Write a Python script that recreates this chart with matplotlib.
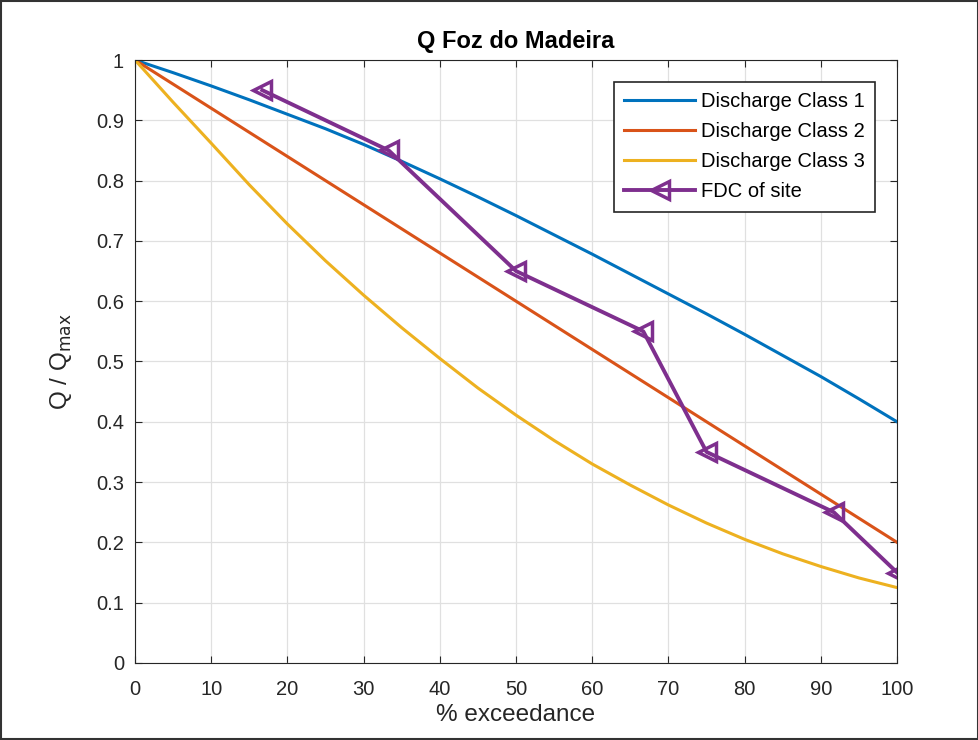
import numpy as np
import matplotlib.pyplot as plt
from matplotlib.patches import Rectangle

plt.rcParams['font.family'] = ['Liberation Sans', 'DejaVu Sans']

# --- donnees ---
exceedance = [0, 5, 10, 15, 20, 25, 30, 35, 40, 45, 50,
              55, 60, 65, 70, 75, 80, 85, 90, 95, 100]
class1 = [1.0, 0.979, 0.957, 0.934, 0.910, 0.886, 0.860, 0.832, 0.803, 0.773, 0.742,
          0.710, 0.678, 0.645, 0.612, 0.579, 0.545, 0.510, 0.475, 0.438, 0.400]
class2 = [1.0, 0.960, 0.920, 0.880, 0.840, 0.800, 0.760, 0.720, 0.680, 0.640, 0.600,
          0.560, 0.520, 0.480, 0.440, 0.400, 0.360, 0.320, 0.280, 0.240, 0.200]
class3 = [1.0, 0.930, 0.862, 0.793, 0.728, 0.667, 0.610, 0.556, 0.505, 0.456, 0.411,
          0.369, 0.330, 0.295, 0.262, 0.232, 0.205, 0.181, 0.160, 0.141, 0.125]

fdc_x = [16.7, 33.3, 50.0, 66.7, 75.0, 91.7, 100.0]
fdc_y = [0.95, 0.85, 0.65, 0.55, 0.35, 0.25, 0.15]

fig = plt.figure(figsize=(9.79, 7.40), dpi=100)
ax = fig.add_axes([0.1379, 0.1041, 0.9163 - 0.1379, 0.9189 - 0.1041])

ax.plot(exceedance, class1, color='#0072BD', lw=2.2, label='Discharge Class 1')
ax.plot(exceedance, class2, color='#D95319', lw=2.2, label='Discharge Class 2')
ax.plot(exceedance, class3, color='#EDB120', lw=2.2, label='Discharge Class 3')
ax.plot(fdc_x, fdc_y, color='#7E2F8E', lw=2.8, marker='<', ms=13, mew=2.5,
        mfc='none', label='FDC of site')

ax.set_xlim(0, 100)
ax.set_ylim(0, 1)
ax.set_xticks(np.arange(0, 101, 10))
ax.set_yticks(np.arange(0, 1.01, 0.1))
ax.set_yticklabels(['0', '0.1', '0.2', '0.3', '0.4', '0.5', '0.6', '0.7', '0.8', '0.9', '1'])
ax.tick_params(direction='in', top=True, right=True, labelsize=14.5, length=5,
               colors='#262626')
ax.tick_params(axis='x', pad=12)
ax.tick_params(axis='y', pad=8)
ax.grid(True, color='#e0e0e0', lw=0.9)
for s in ax.spines.values():
    s.set_color('#262626')

ax.set_title('Q Foz do Madeira', fontsize=17, fontweight='bold', pad=9)
ax.set_xlabel('% exceedance', fontsize=17.5, color='#262626', labelpad=4)
ax.set_ylabel('Q / Q$_{\\mathrm{max}}$', fontsize=17.5, color='#262626', labelpad=16)

leg = ax.legend(loc='upper right', fontsize=14.5, frameon=True, fancybox=False,
                edgecolor='#262626', framealpha=1, handlelength=3.5,
                handletextpad=0.3, borderpad=0.5, borderaxespad=1.1,
                labelspacing=0.55)
leg.get_frame().set_linewidth(1.2)

fig.patches.append(Rectangle((0.001, 0.001), 0.998, 0.998, transform=fig.transFigure,
                             fill=False, edgecolor='#333333', lw=1.5))

fig.savefig('out.png', dpi=100)
